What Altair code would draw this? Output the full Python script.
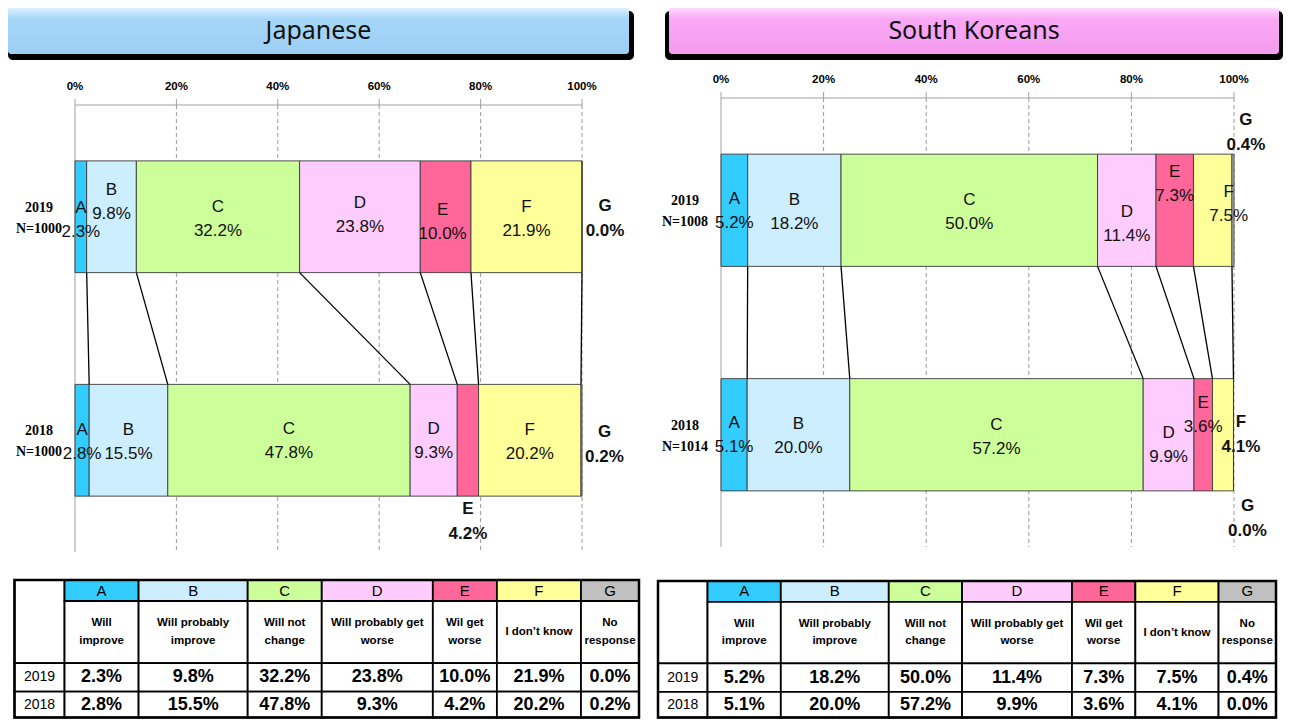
import altair as alt
import pandas as pd

# ---------------- data ----------------
CATEGORIES = ["A", "B", "C", "D", "E", "F", "G"]
CATEGORY_NAMES = ["Will\nimprove", "Will probably\nimprove", "Will not\nchange",
                  "Will  probably get\nworse", "Wil get\nworse", "I don\u2019t know", "No\nresponse"]
YEARS = ["2019", "2018"]
PANEL_TITLES = ["Japanese", "South Koreans"]
JAPAN_2019 = [2.3, 9.8, 32.2, 23.8, 10.0, 21.9, 0.0]
JAPAN_2018 = [2.8, 15.5, 47.8, 9.3, 4.2, 20.2, 0.2]
KOREA_2019 = [5.2, 18.2, 50.0, 11.4, 7.3, 7.5, 0.4]
KOREA_2018 = [5.1, 20.0, 57.2, 9.9, 3.6, 4.1, 0.0]
JAPAN_N = ["N=1000", "N=1000"]
KOREA_N = ["N=1008", "N=1014"]
TICK_VALUES = [0, 20, 40, 60, 80, 100]
TICK_LABELS = ["0%", "20%", "40%", "60%", "80%", "100%"]

# ---------------- style / layout ----------------
COLORS = ["#33ccff", "#cceeff", "#ccff99", "#ffccff", "#ff6699", "#ffff99", "#c0c0c0"]
W, H = 1275, 711
COL_W = [50, 74, 109, 74, 111, 64, 84, 58]
ROW_H = [22, 65, 30, 27]
FONT = "Liberation Sans"
NARROW = "Liberation Sans Narrow, Liberation Sans, sans-serif"

# label placement: (bold_outside, dx px, dy px) relative to segment centre / bar centre
JP_LABELS = [
    {"A": (0, 0, 3), "B": (0, 0, -15), "C": (0, 0, 2), "D": (0, 0, -2), "E": (0, -3, 5), "F": (0, 0, 2), "G": (1, 23, 2)},
    {"A": (0, 0, 2), "B": (0, 0, 2), "C": (0, 0, 1), "D": (0, 0, 1), "E": (1, 0, 81), "F": (0, 0, 2), "G": (1, 23, 4)},
]
KR_LABELS = [
    {"A": (0, 0, 1), "B": (0, 0, 2), "C": (0, 0, 2), "D": (0, 0, 14), "E": (0, 0, -26), "F": (0, 16, -6), "G": (1, 13, -78)},
    {"A": (0, 0, 0), "B": (0, 0, 1), "C": (0, 0, 2), "D": (0, 0, 10), "E": (0, 0, -20), "F": (1, 18, 0), "G": (1, 14, 84)},
]

PANELS = [
    dict(title=PANEL_TITLES[0], values=[JAPAN_2019, JAPAN_2018], n=JAPAN_N, labels=JP_LABELS,
         grad=("#dff2ff", "#a6d7f9", "#9ccff5"),
         face=(0, 621, -1, 46), shadow=(0, 626, 3, 52),
         bar_x=(67, 574), bar_y=(97, 544), table_x=(6.5, 631), table_y=(572, 709.5)),
    dict(title=PANEL_TITLES[1], values=[KOREA_2019, KOREA_2018], n=KOREA_N, labels=KR_LABELS,
         grad=("#ffe0ff", "#faa8f6", "#f49cef"),
         face=(661, 1271, -1, 46), shadow=(657, 1275, 3, 52),
         bar_x=(713, 1226), bar_y=(90, 539), table_x=(650, 1268), table_y=(573, 709.5)),
]


def sc(domain, rng):
    return alt.Scale(domain=list(domain), range=list(rng), nice=False, zero=False)


def rect(df, xs, ys, **mark):
    enc = dict(x=alt.X("x:Q", scale=xs, axis=None), x2="x2:Q",
               y=alt.Y("y:Q", scale=ys, axis=None), y2="y2:Q")
    if "fill" in df.columns:
        enc["fill"] = alt.Fill("fill:N", scale=None)
    return alt.Chart(df).mark_rect(**mark).encode(**enc)


def rule(df, xs, ys, **mark):
    enc = dict(x=alt.X("x:Q", scale=xs, axis=None), y=alt.Y("y:Q", scale=ys, axis=None))
    if "x2" in df.columns:
        enc["x2"] = "x2:Q"
    if "y2" in df.columns:
        enc["y2"] = "y2:Q"
    return alt.Chart(df).mark_rule(**mark).encode(**enc)


def text(df, xs, ys, **mark):
    return alt.Chart(df).mark_text(**mark).encode(
        x=alt.X("x:Q", scale=xs, axis=None), y=alt.Y("y:Q", scale=ys, axis=None), text="t:N")


layers = []
for p in PANELS:
    # ---- banner ----
    unit = pd.DataFrame({"x": [0], "x2": [1], "y": [0], "y2": [1]})
    fx0, fx1, fy0, fy1 = p["face"]
    sx0, sx1, sy0, sy1 = p["shadow"]
    layers.append(rect(unit, sc([0, 1], [sx0, sx1]), sc([0, 1], [sy0, sy1]), color="#000000", cornerRadius=5))
    grad = alt.Gradient(gradient="linear", x1=0, x2=0, y1=0, y2=1,
                        stops=[alt.GradientStop(color=p["grad"][0], offset=0),
                               alt.GradientStop(color=p["grad"][1], offset=0.25),
                               alt.GradientStop(color=p["grad"][2], offset=1)])
    layers.append(rect(unit, sc([0, 1], [fx0, fx1]), sc([0, 1], [fy0, fy1]), color=grad, cornerRadius=3))
    layers.append(text(pd.DataFrame({"x": [0.5], "y": [0.5], "t": [p["title"]]}),
                       sc([0, 1], [fx0, fx1]), sc([0, 1], [fy0, fy1]),
                       font="Noto Sans", fontSize=25, color="#111111", baseline="middle"))

    # ---- bar chart ----
    xs = sc([0, 100], p["bar_x"])
    ys = sc([-0.5, 3.5], p["bar_y"])
    ppx = (p["bar_x"][1] - p["bar_x"][0]) / 100.0
    ppu = (p["bar_y"][1] - p["bar_y"][0]) / 4.0

    grid = pd.DataFrame({"x": TICK_VALUES[1:], "y": -0.5, "y2": 3.5})
    layers.append(rule(grid, xs, ys, color="#9a9a9a", strokeWidth=1, strokeDash=[4, 3]))
    layers.append(rule(pd.DataFrame({"x": [0], "y": [-0.5], "y2": [3.5]}), xs, ys, color="#a0a0a0", strokeWidth=1))
    layers.append(rule(pd.DataFrame({"x": [0], "x2": [100], "y": [-0.5]}), xs, ys, color="#a0a0a0", strokeWidth=1))
    ticks = pd.DataFrame({"x": TICK_VALUES, "y": -0.5, "y2": -0.5 - 6.0 / ppu})
    layers.append(rule(ticks, xs, ys, color="#a0a0a0", strokeWidth=1))
    layers.append(text(pd.DataFrame({"x": TICK_VALUES, "y": -0.5, "t": TICK_LABELS}), xs, ys,
                       font=NARROW, fontWeight="bold", fontSize=11.5, dy=-18, color="#000000"))

    bars, inside, outside, cums = [], [], [], []
    for r, vals in enumerate(p["values"]):
        start = 0.0
        cum = []
        for j, (cat, v) in enumerate(zip(CATEGORIES, vals)):
            bars.append({"x": start, "x2": start + v, "y": 2 * r, "y2": 2 * r + 1, "fill": COLORS[j]})
            bold, dx, dy = p["labels"][r][cat]
            row = {"x": start + v / 2 + dx / ppx, "y": 2 * r + 0.5 + dy / ppu,
                   "letter": cat, "value": f"{v:.1f}%"}
            (outside if bold else inside).append(row)
            start += v
            cum.append(start)
        cums.append(cum)
    layers.append(rect(pd.DataFrame(bars), xs, ys, stroke="#3a3a3a", strokeWidth=0.9))

    conn = pd.DataFrame({"x": cums[0][:6], "x2": cums[1][:6], "y": 1, "y2": 2})
    layers.append(rule(conn, xs, ys, color="#000000", strokeWidth=1.3))

    for rows, weight, off in ((inside, "normal", 12), (outside, "bold", 12.5)):
        if not rows:
            continue
        d = pd.DataFrame(rows)
        layers.append(text(d.assign(t=d["letter"]), xs, ys, font=FONT, fontSize=17,
                           fontWeight=weight, dy=-off, color="#111111"))
        layers.append(text(d.assign(t=d["value"]), xs, ys, font=FONT, fontSize=17,
                           fontWeight=weight, dy=off, color="#111111"))

    yr = pd.DataFrame({"x": [0, 0], "y": [0.5, 2.5], "t": YEARS})
    layers.append(text(yr, xs, ys, font="Liberation Serif", fontWeight="bold", fontSize=14,
                       dx=-36, dy=-9, color="#000000"))
    layers.append(text(yr.assign(t=p["n"]), xs, ys, font="Liberation Serif", fontWeight="bold",
                       fontSize=14, dx=-36, dy=12, color="#000000"))

    # ---- table ----
    tw, th = sum(COL_W), sum(ROW_H)
    txs = sc([0, tw], p["table_x"])
    tys = sc([0, th], p["table_y"])
    cx = [sum(COL_W[:i]) for i in range(len(COL_W) + 1)]
    ry = [sum(ROW_H[:i]) for i in range(len(ROW_H) + 1)]
    cells = [{"x": 0, "x2": cx[1], "y": 0, "y2": ry[2], "fill": "#ffffff"}]
    head, lab, val, yrs = [], [], [], []
    for j, cat in enumerate(CATEGORIES):
        x0, x1 = cx[j + 1], cx[j + 2]
        cells.append({"x": x0, "x2": x1, "y": ry[0], "y2": ry[1], "fill": COLORS[j]})
        cells.append({"x": x0, "x2": x1, "y": ry[1], "y2": ry[2], "fill": "#ffffff"})
        head.append({"x": (x0 + x1) / 2, "y": (ry[0] + ry[1]) / 2, "t": cat})
        lines = CATEGORY_NAMES[j].split("\n")
        for k, ln in enumerate(lines):
            lab.append({"x": (x0 + x1) / 2,
                        "y": (ry[1] + ry[2]) / 2 + (k - (len(lines) - 1) / 2) * 18, "t": ln})
    for r, vals in enumerate(p["values"]):
        y0, y1 = ry[2 + r], ry[3 + r]
        cells.append({"x": 0, "x2": cx[1], "y": y0, "y2": y1, "fill": "#ffffff"})
        yrs.append({"x": cx[1] / 2, "y": (y0 + y1) / 2, "t": YEARS[r]})
        for j, v in enumerate(vals):
            cells.append({"x": cx[j + 1], "x2": cx[j + 2], "y": y0, "y2": y1, "fill": "#ffffff"})
            val.append({"x": (cx[j + 1] + cx[j + 2]) / 2, "y": (y0 + y1) / 2, "t": f"{v:.1f}%"})
    layers.append(rect(pd.DataFrame(cells), txs, tys, stroke="#000000", strokeWidth=1.8))
    layers.append(rect(pd.DataFrame({"x": [0], "x2": [tw], "y": [0], "y2": [th]}), txs, tys,
                       fill="transparent", stroke="#000000", strokeWidth=2.5))
    layers.append(text(pd.DataFrame(head), txs, tys, font=FONT, fontSize=15, baseline="middle", color="#000000"))
    layers.append(text(pd.DataFrame(lab), txs, tys, font=NARROW, fontWeight="bold", fontSize=11.5,
                       baseline="middle", color="#000000"))
    layers.append(text(pd.DataFrame(val), txs, tys, font=FONT, fontWeight="bold", fontSize=18,
                       baseline="middle", color="#000000"))
    layers.append(text(pd.DataFrame(yrs), txs, tys, font=FONT, fontSize=14, baseline="middle", color="#000000"))

chart = alt.layer(*layers).resolve_scale(x="independent", y="independent").properties(
    width=W, height=H, autosize=alt.AutoSizeParams(type="none"), padding=0
).configure_view(stroke=None).configure_text(baseline="middle")

chart.save("out.html", embed_options={"renderer": "svg", "actions": False})
